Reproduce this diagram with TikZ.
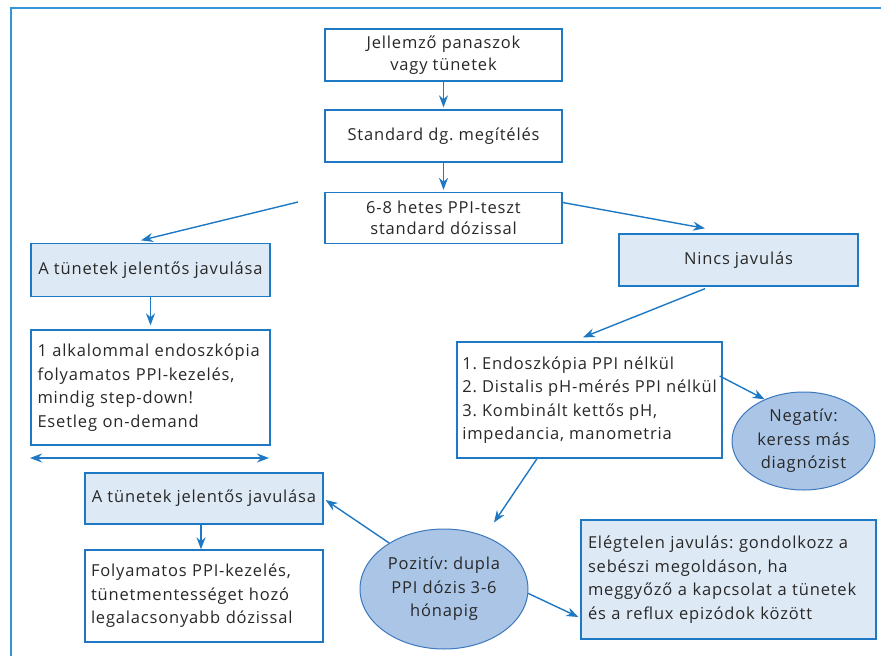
\documentclass[tikz,border=0pt]{standalone}
\usepackage{fontspec}
\setmainfont{Open Sans}[LetterSpace=5]
\frenchspacing
\usetikzlibrary{arrows.meta,shapes.geometric}
\definecolor{lineblue}{RGB}{30,120,195}
\definecolor{frameblue}{RGB}{50,150,215}
\definecolor{boxfill}{RGB}{222,233,246}
\definecolor{ellfill}{RGB}{170,197,230}
\definecolor{ellline}{RGB}{60,120,190}
\definecolor{txt}{RGB}{40,40,40}
\tikzset{
  box/.style={draw=lineblue, line width=1.3pt, rectangle, inner sep=3pt, text=txt, font=\fontsize{16.5}{23.5}\selectfont},
  cbox/.style={box, align=center, font=\fontsize{16.5}{21.5}\selectfont},
  fbox/.style={box, fill=boxfill, align=center},
  lbox/.style={box, align=left, anchor=center},
  ell/.style={draw=ellline, line width=1pt, ellipse, fill=ellfill, inner sep=0pt, align=center, text=txt, font=\fontsize{16.5}{23.5}\selectfont},
  arr/.style={draw=lineblue, line width=1.4pt, -{Stealth[length=12pt,width=9pt]}},
  darr/.style={draw=lineblue, line width=1.4pt, {Stealth[length=12pt,width=9pt]}-{Stealth[length=12pt,width=9pt]}}
}
\begin{document}
\begin{tikzpicture}[x=1pt,y=-1pt]
\useasboundingbox (0,0) rectangle (881,656);
\fill[white] (0,0) rectangle (881,656);
\draw[frameblue, line width=2pt] (11,656) -- (11,8) -- (881,8);

\node[cbox, minimum width=237pt, minimum height=52pt] (b1) at (443.5,55) {Jellemző panaszok\\vagy tünetek};
\node[cbox, minimum width=237pt, minimum height=52pt] (b2) at (443.5,136) {Standard dg. megítélés};
\node[cbox, minimum width=237pt, minimum height=51pt] (b3) at (443.5,218) {6-8 hetes PPI-teszt\\standard dózissal};

\node[fbox, minimum width=239pt, minimum height=53pt] (l1) at (150.5,270) {A tünetek jelentős javulása};
\node[lbox, minimum width=239pt, minimum height=115pt, text width=226pt] (l2) at (150.5,387.5) {1 alkalommal endoszkópia\\folyamatos PPI-kezelés,\\mindig step-down!\\Esetleg on-demand};

\node[fbox, minimum width=239pt, minimum height=52pt] (nj) at (738.5,260) {Nincs javulás};
\node[lbox, minimum width=265pt, minimum height=116pt] (en) at (589.5,400) {1. Endoszkópia PPI nélkül\\2. Distalis pH-mérés PPI nélkül\\3. Kombinált kettős pH,\\impedancia, manometria};
\node[ell, minimum width=143pt, minimum height=98pt] (neg) at (803.5,441) {Negatív:\\keress más\\diagnózist};

\node[ell, minimum width=168pt, minimum height=120pt] (poz) at (444,589) {Pozitív: dupla\\PPI dózis 3-6\\hónapig};
\node[fbox, minimum width=238pt, minimum height=51pt] (l3) at (204,498.5) {A tünetek jelentős javulása};
\node[lbox, minimum width=238pt, minimum height=92pt, text width=226pt] (l4) at (204,596) {Folyamatos PPI-kezelés,\\tünetmentességet hozó\\legalacsonyabb dózissal};
\node[box, fill=boxfill, align=left, minimum width=295pt, minimum height=119pt, text width=281pt] (el) at (728.5,579.5) {Elégtelen javulás: gondolkozz a\\sebészi megoldáson, ha\\meggyőző a kapcsolat a tünetek\\és a reflux epizódok között};

\coordinate (s1) at (298,202);
\coordinate (dl) at (30,458);
\coordinate (dr) at (269,458);

\draw[arr] (b1.south) -- ([yshift=2pt]b2.north);
\draw[arr] (b2.south) -- ([yshift=2pt]b3.north);
\draw[arr] (s1) -- ([xshift=-9.5pt,yshift=2.5pt]l1.north);
\draw[arr] ([yshift=15.5pt]b3.east) -- ([xshift=-33.5pt,yshift=5pt]nj.north);
\draw[arr] (l1.south) -- ([yshift=4pt]l2.north);
\draw[arr] ([xshift=-33.5pt,yshift=-2pt]nj.south) -- ([xshift=-6.5pt,yshift=4pt]en.north);
\draw[arr] ([xshift=-3pt,yshift=24pt]en.east) -- (neg.133);
\draw[arr] ([xshift=-52.5pt]en.south) -- ([xshift=50pt,yshift=6pt]poz.north);
\draw[arr] (poz.140) -- ([xshift=2pt,yshift=-1.5pt]l3.east);
\draw[arr] ([xshift=-3pt]l3.south) -- ([xshift=-3pt]l4.north);
\draw[arr] (poz.-3) -- ([xshift=-2pt,yshift=-37.5pt]el.west);
\draw[darr] (dl) -- (dr);
\end{tikzpicture}
\end{document}
